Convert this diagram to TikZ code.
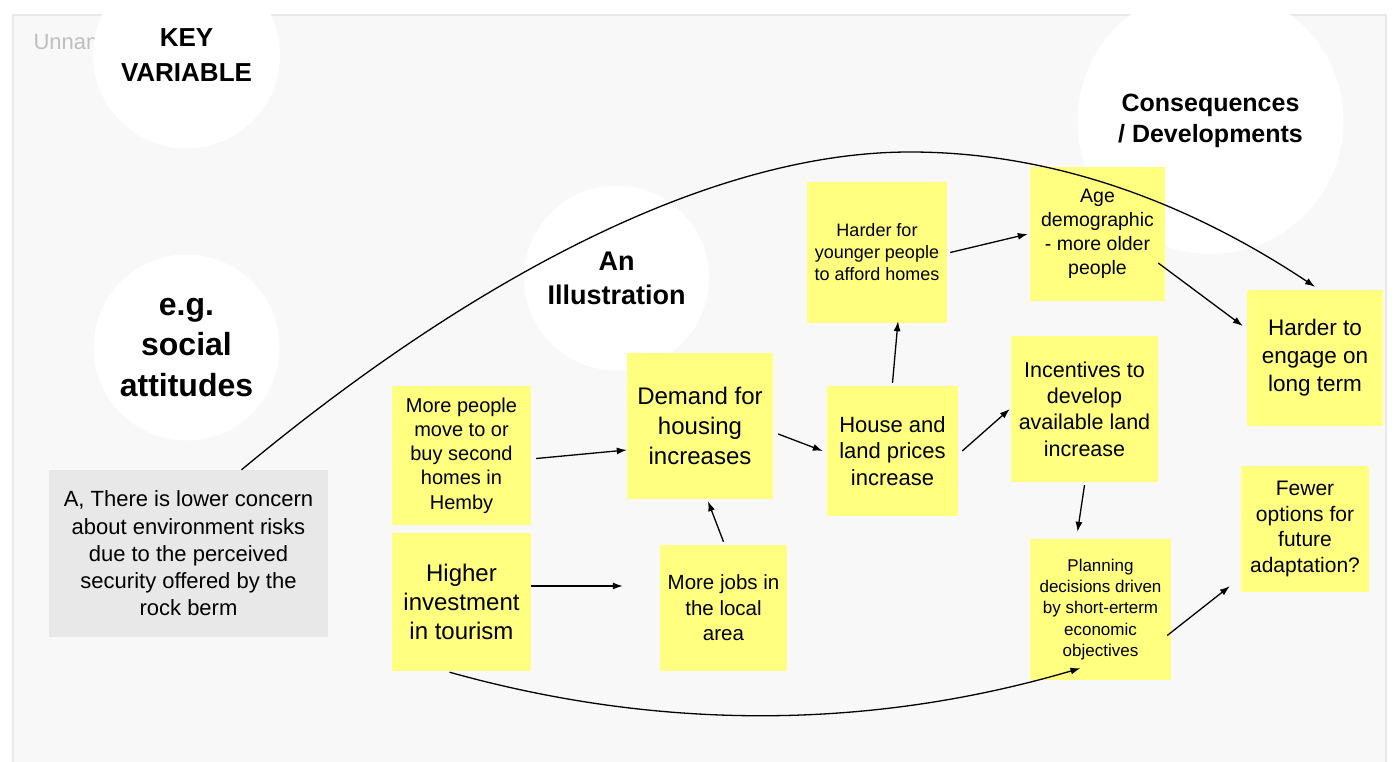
\documentclass[tikz,border=0pt]{standalone}
\usepackage{fontspec}
\setmainfont{Liberation Sans}
\usepackage{xcolor}
\usepackage{tikz}
\usetikzlibrary{arrows.meta}
\definecolor{StickyYellow}{RGB}{255,255,128}
\definecolor{NoteGrey}{RGB}{232,232,232}
\definecolor{PanelGrey}{RGB}{248,248,248}
\definecolor{PanelEdge}{RGB}{232,232,232}
\definecolor{CaptionGrey}{RGB}{190,190,190}

\begin{document}
\begin{tikzpicture}[x=1pt, y=-1pt,
      sticky/.style={rectangle, fill=StickyYellow, align=center, inner sep=0pt},
      note/.style={rectangle, fill=NoteGrey, align=center, inner sep=0pt},
      bubble/.style={circle, fill=white, align=center, inner sep=0pt},
      link/.style={-{Latex[length=10pt,width=7pt]}, line width=1.3pt, black}
    ]
    \clip (0,0) rectangle (1394,762);
    \fill[white] (0,0) rectangle (1394,762);
    \draw[PanelEdge, line width=2pt, fill=PanelGrey] (13,15) rectangle (1386,780);
    \node[anchor=west, text=CaptionGrey, font=\fontsize{22}{26}\selectfont] (T) at (30,42) {Unnamed};

    % Circles
    \node[bubble, minimum size=187pt, font=\bfseries\fontsize{26}{35}\selectfont] (KV) at (186.5,55) {KEY\\VARIABLE};
    \node[bubble, minimum size=186pt, font=\bfseries\fontsize{32}{40.5}\selectfont] (EG) at (186.5,347.5) {e.g.\\social\\attitudes};
    \node[bubble, minimum size=185pt, font=\bfseries\fontsize{27}{34}\selectfont] (IL) at (616.5,278) {An\\Illustration};
    \node[bubble, minimum size=266pt, font=\bfseries\fontsize{25}{31}\selectfont] (CD) at (1210.5,121) {Consequences\\/ Developments};

    % Boxes
    \node[note, minimum width=279pt, minimum height=167pt, font=\fontsize{22}{27.2}\selectfont] (A) at (188.5,553.5)
        {A, There is lower concern\\about environment risks\\due to the perceived\\security offered by the\\rock berm};
    \node[sticky, minimum width=139pt, minimum height=139pt, font=\fontsize{20}{24.2}\selectfont] (MP) at (461.5,455.5)
        {More people\\move to or\\buy second\\homes in\\Hemby};
    \node[sticky, minimum width=139pt, minimum height=138pt, font=\fontsize{24}{29}\selectfont] (HI) at (461.5,602)
        {Higher\\investment\\in tourism};
    \node[sticky, minimum width=146pt, minimum height=146pt, font=\fontsize{24}{30}\selectfont] (DH) at (700,426)
        {Demand for\\housing\\increases};
    \node[sticky, minimum width=127pt, minimum height=126pt, font=\fontsize{20.5}{25.5}\selectfont] (MJ) at (723.5,608)
        {More jobs in\\the local\\area};
    \node[sticky, minimum width=131pt, minimum height=130pt, font=\fontsize{22}{26.5}\selectfont] (HL) at (892.5,451)
        {House and\\land prices\\increase};
    \node[sticky, minimum width=140pt, minimum height=141pt, font=\fontsize{18}{22}\selectfont] (HY) at (877,252.5)
        {Harder for\\younger people\\to afford homes};
    \node[sticky, minimum width=135pt, minimum height=134pt, font=\fontsize{19.5}{24}\selectfont] (AD) at (1097.5,234)
        {Age\\demographic\\- more older\\people};
    \node[sticky, minimum width=147pt, minimum height=146pt, font=\fontsize{21.5}{26.4}\selectfont] (IN) at (1084.5,409)
        {Incentives to\\develop\\available land\\increase};
    \node[sticky, minimum width=141pt, minimum height=141pt, font=\fontsize{17}{21.2}\selectfont] (PD) at (1100.5,609.5)
        {Planning\\decisions driven\\by short-erterm\\economic\\objectives};
    \node[sticky, minimum width=136pt, minimum height=136pt, font=\fontsize{22.5}{28}\selectfont] (HE) at (1315,358)
        {Harder to\\engage on\\long term};
    \node[sticky, minimum width=128pt, minimum height=126pt, font=\fontsize{21}{25.6}\selectfont] (FO) at (1305,529)
        {Fewer\\options for\\future\\adaptation?};

    % Links
    \draw[link] ([xshift=5pt,yshift=-3pt]MP.east) -- ([yshift=-24pt]DH.west);
    \draw[link] ([yshift=16pt]HI.east) -- ([xshift=-37pt,yshift=22pt]MJ.west);
    \draw[link] ([yshift=3pt]MJ.north) -- ([xshift=8pt,yshift=-2pt]DH.south);
    \draw[link] ([xshift=5pt,yshift=-8pt]DH.east) -- ([xshift=-4pt]HL.west);
    \draw[link] ([yshift=3pt]HL.north) -- ([xshift=21pt,yshift=2pt]HY.south);
    \draw[link] ([xshift=3pt]HY.east) -- ([xshift=-2pt]AD.west);
    \draw[link] ([xshift=4pt]HL.east) -- ([xshift=-1pt]IN.west);
    \draw[link] ([yshift=-3pt]IN.south) -- ([xshift=-23pt,yshift=7pt]PD.north);
    \draw[link] ([xshift=-7pt,yshift=-29pt]AD.east) -- ([xshift=-4pt,yshift=32pt]HE.west);
    \draw[link] ([xshift=-4pt,yshift=-26pt]PD.east) -- ([xshift=-11pt,yshift=6pt]FO.south west);

    % Long links
    \draw[link] ([xshift=53pt]A.north) .. controls (471,279) and (710,152) .. (910,152)
        .. controls (1045,152) and (1180,197) .. ([yshift=3pt]HE.north);
    \draw[link] ([xshift=-12pt,yshift=-1pt]HI.south) .. controls (660,731) and (870,730)
        .. ([xshift=-20pt,yshift=12pt]PD.south);
  \end{tikzpicture}
\end{document}
